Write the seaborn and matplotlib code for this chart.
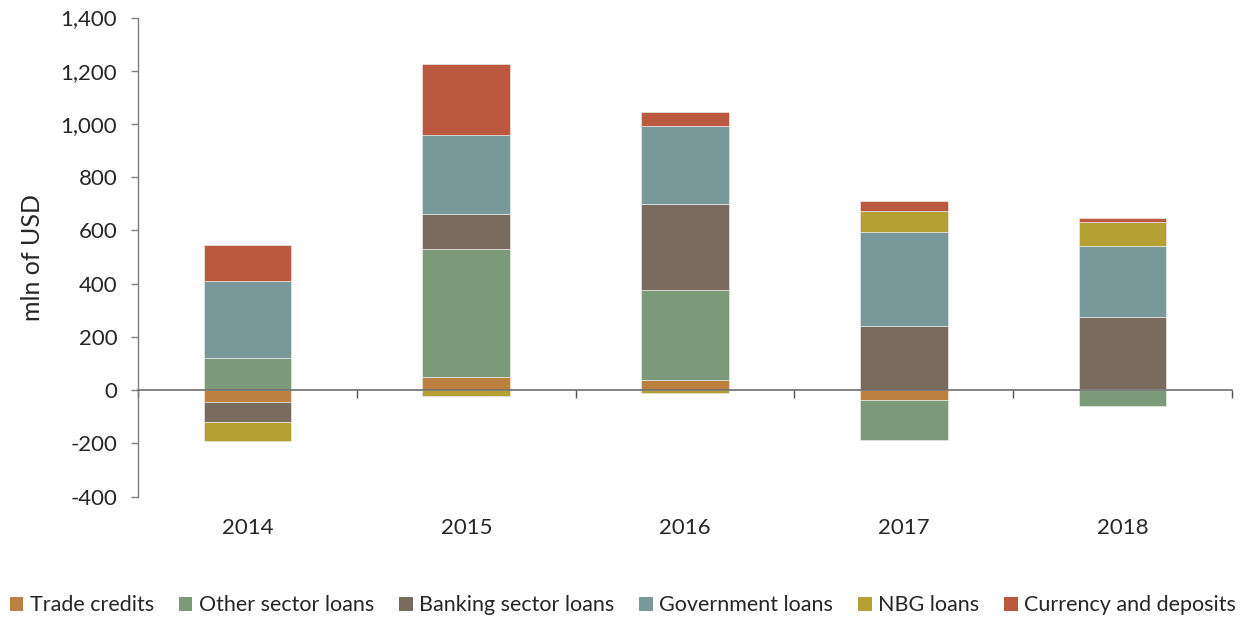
import numpy as np
import pandas as pd
import matplotlib
matplotlib.use("Agg")
import matplotlib.pyplot as plt
import seaborn as sns
from matplotlib.patches import Patch

years = ["2014", "2015", "2016", "2017", "2018"]
series_names = ["Trade credits", "Other sector loans", "Banking sector loans",
                "Government loans", "NBG loans", "Currency and deposits"]
trade_credits = [-45, 48, 40, -37, 3]
other_sector_loans = [120, 481, 337, -149, -58]
banking_sector_loans = [-75, 133, 323, 240, 272]
government_loans = [290, 298, 291, 354, 267]
nbg_loans = [-70, -20, -12, 78, 88]
currency_deposits = [135, 264, 53, 38, 17]
colors = ["#BC8040", "#7C9A7A", "#7A6B5F", "#78989A", "#B5A033", "#BA5840"]
yticks = [-400, -200, 0, 200, 400, 600, 800, 1000, 1200, 1400]

series = [trade_credits, other_sector_loans, banking_sector_loans,
          government_loans, nbg_loans, currency_deposits]

sns.set_theme(style="white")
plt.rcParams["font.family"] = ["Lato", "DejaVu Sans"]
plt.rcParams["text.color"] = "#262626"

fig = plt.figure(figsize=(12.46, 6.21), dpi=100)
ax = fig.add_axes([0.1108, 0.2002, 0.8780, 0.7716])

pos_base = np.zeros(len(years))
neg_base = np.zeros(len(years))
for name, vals, c in zip(series_names, series, colors):
    v = np.array(vals, dtype=float)
    bottoms = np.where(v >= 0, pos_base, neg_base)
    df = pd.DataFrame({"year": years, "value": v})
    sns.barplot(data=df, x="year", y="value", color=c, width=0.4,
                bottom=bottoms, ax=ax, edgecolor="#e8e8e8", linewidth=0.5,
                saturation=1)
    pos_base = pos_base + np.where(v > 0, v, 0)
    neg_base = neg_base + np.where(v < 0, v, 0)

ax.set_xlim(-0.5, 4.5)
ax.set_ylim(-400, 1400)
ax.set_yticks(yticks)
ax.set_yticklabels([f"{t:,}" for t in yticks], fontsize=16)
ax.set_ylabel("mln of USD", fontsize=18, labelpad=12)
ax.set_xlabel("")

for s in ["top", "right"]:
    ax.spines[s].set_visible(False)
ax.spines["left"].set_color("#7f7f7f")
ax.spines["left"].set_linewidth(1)
ax.spines["bottom"].set_position(("data", 0))
ax.spines["bottom"].set_color("#6e6e6e")
ax.spines["bottom"].set_linewidth(1.2)

ax.tick_params(axis="y", which="major", direction="out", length=5,
               width=1, color="#7f7f7f", left=True, pad=10)
ax.set_xticks([i + 0.5 for i in range(-1, len(years))])
ax.set_xticklabels([""] * (len(years) + 1))
ax.set_xticks(range(len(years)), minor=True)
ax.set_xticklabels(years, minor=True, fontsize=16)
ax.tick_params(axis="x", which="minor", length=0, pad=92)
ax.tick_params(axis="x", which="major", direction="out", length=6,
               width=1, color="#555555", bottom=True)

handles = [Patch(facecolor=c, edgecolor="none") for c in colors]
fig.legend(handles, series_names, loc="center", bbox_to_anchor=(0.50, 0.025),
           ncol=6, frameon=False, fontsize=15.5, handlelength=0.62,
           handleheight=0.62, handletextpad=0.3, columnspacing=1.17)

fig.savefig("out.png", dpi=100)
